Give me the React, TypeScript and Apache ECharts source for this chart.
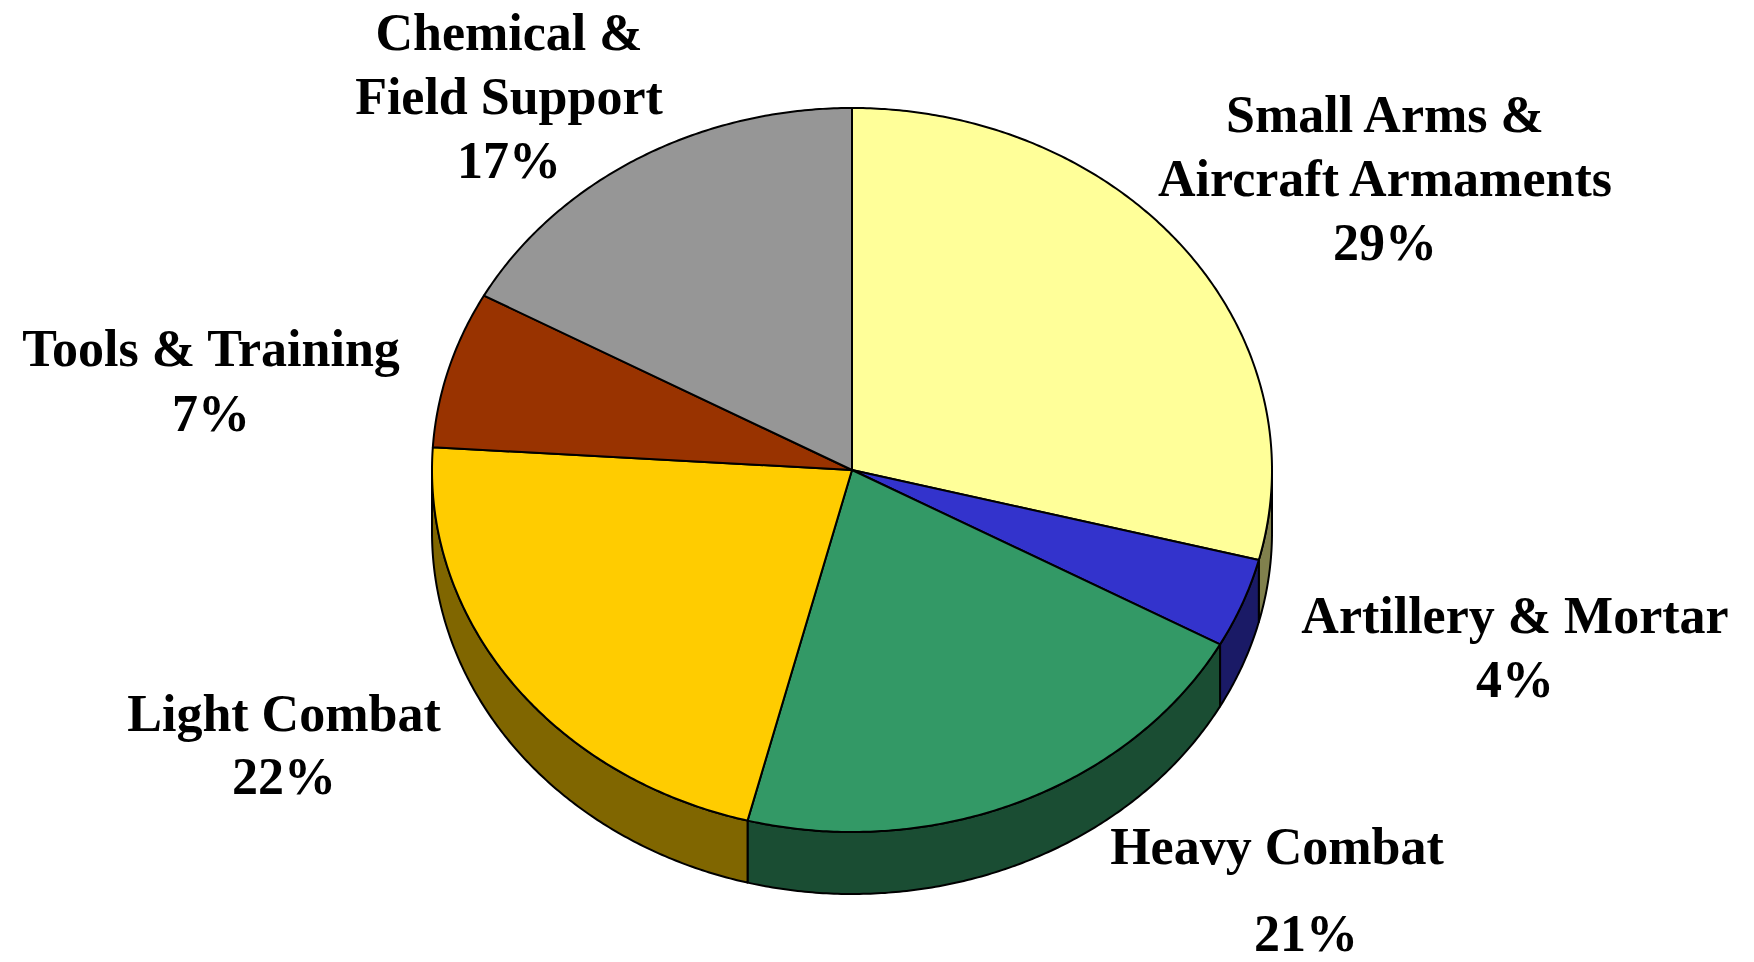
import React, { useEffect, useRef } from "react";
import * as echarts from "echarts";

// ---- data ----
const CATEGORIES = [
  "Small Arms &\nAircraft Armaments",
  "Artillery & Mortar",
  "Heavy Combat",
  "Light Combat",
  "Tools & Training",
  "Chemical &\nField Support",
];
const VALUES = [29, 4, 21, 22, 7, 17];
const TOP_COLORS = ["#FFFF99", "#3333CC", "#339966", "#FFCC00", "#993300", "#969696"];
const SIDE_COLORS = ["#80804D", "#1A1A66", "#1A4D33", "#806600", "#4D1A00", "#4B4B4B"];

// ---- layout ----
const CX = 852;
const CY = 470;
const RX = 420;
const RY = 362;
const DEPTH = 62;
// label block centre (name + percentage together) unless a separate percentage position is given
const LABEL_POS = [
  [1385, 178],
  [1515, 647],
  [1277, 846],
  [284, 745],
  [211, 381],
  [509, 96],
];
const PCT_POS: (number[] | null)[] = [null, null, [1306, 933], null, null, null];
const LABEL_LH = [64, 64, 64, 63, 65, 64];
const FONT = 'bold 52px "Liberation Serif", "Times New Roman", serif';

const TOTAL = VALUES.reduce((a, b) => a + b, 0);
const STARTS: number[] = [];
const ENDS: number[] = [];
{
  let acc = 0;
  VALUES.forEach((v) => {
    STARTS.push((acc / TOTAL) * Math.PI * 2);
    acc += v;
    ENDS.push((acc / TOTAL) * Math.PI * 2);
  });
}

function arcPts(a0: number, a1: number, dy: number) {
  const n = Math.max(2, Math.ceil((a1 - a0) / (Math.PI / 360)));
  const pts: number[][] = [];
  for (let i = 0; i <= n; i++) {
    const t = a0 + ((a1 - a0) * i) / n;
    pts.push([CX + RX * Math.sin(t), CY - RY * Math.cos(t) + dy]);
  }
  return pts;
}

function textEl(text: string, x: number, y: number, lh: number) {
  return {
    type: "text",
    style: {
      text,
      x,
      y,
      fill: "#000",
      font: FONT,
      align: "center",
      verticalAlign: "middle",
      textAlign: "center",
      textVerticalAlign: "middle",
      lineHeight: lh,
    },
  };
}

export default function App() {
  const ref = useRef<HTMLDivElement>(null);
  useEffect(() => {
    document.body.style.margin = "0";
    if (!ref.current) return;
    const chart = echarts.init(ref.current, undefined, { renderer: "svg" });
    const option = {
      animation: false,
      backgroundColor: "#ffffff",
      series: [
        {
          type: "custom",
          coordinateSystem: "none",
          silent: true,
          data: VALUES,
          renderItem: (params: any) => {
            const i = params.dataIndex;
            const s = Math.max(STARTS[i], Math.PI / 2);
            const e = Math.min(ENDS[i], (3 * Math.PI) / 2);
            if (s >= e) return { type: "group", children: [] };
            const pts = [...arcPts(s, e, 0), ...arcPts(s, e, DEPTH).reverse()];
            return {
              type: "polygon",
              shape: { points: pts },
              style: { fill: SIDE_COLORS[i], stroke: "#000", lineWidth: 2, lineJoin: "round" },
            };
          },
        },
        {
          type: "custom",
          coordinateSystem: "none",
          silent: true,
          data: VALUES,
          renderItem: (params: any, api: any) => {
            const i = params.dataIndex;
            const v = api.value(0);
            const pts = [[CX, CY], ...arcPts(STARTS[i], ENDS[i], 0)];
            const pct = Math.round((v / TOTAL) * 100) + "%";
            const children: any[] = [
              {
                type: "polygon",
                shape: { points: pts },
                style: { fill: TOP_COLORS[i], stroke: "#000", lineWidth: 2, lineJoin: "round" },
              },
            ];
            const pp = PCT_POS[i];
            if (pp) {
              children.push(textEl(CATEGORIES[i], LABEL_POS[i][0], LABEL_POS[i][1], LABEL_LH[i]));
              children.push(textEl(pct, pp[0], pp[1], LABEL_LH[i]));
            } else {
              children.push(
                textEl(CATEGORIES[i] + "\n" + pct, LABEL_POS[i][0], LABEL_POS[i][1], LABEL_LH[i])
              );
            }
            return { type: "group", children };
          },
        },
      ],
    };
    chart.setOption(option as any);
    return () => chart.dispose();
  }, []);
  return <div ref={ref} style={{ width: 1754, height: 962 }} />;
}
